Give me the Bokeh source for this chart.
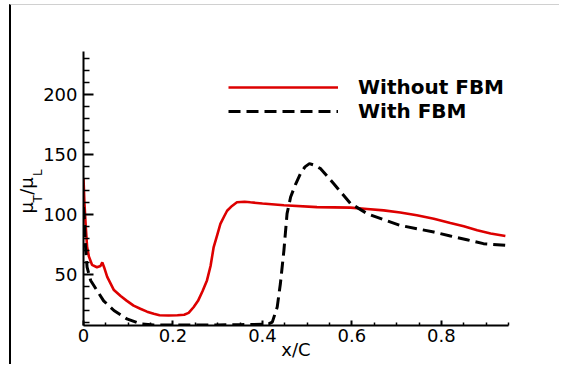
from bokeh.plotting import figure
from bokeh.models import FixedTicker, Legend, LegendItem, Range1d, Title
from bokeh.embed import file_html
from bokeh.resources import INLINE

# ---- data ----
x_without = [0, 0.002, 0.005, 0.008, 0.012, 0.019, 0.03, 0.038, 0.042, 0.046, 0.053,
             0.068, 0.083, 0.097, 0.112, 0.127, 0.142, 0.157, 0.17, 0.19, 0.21, 0.225,
             0.235, 0.246, 0.256, 0.266, 0.276, 0.284, 0.291, 0.299, 0.306, 0.314,
             0.321, 0.332, 0.343, 0.36, 0.373, 0.4, 0.448, 0.522, 0.597, 0.634, 0.671,
             0.708, 0.745, 0.783, 0.82, 0.85, 0.88, 0.91, 0.943]
y_without = [130, 110, 90, 73, 65, 58, 56, 57, 60, 56, 48,
             37, 32, 28, 24, 21.4, 19, 17.2, 16, 15.8, 16, 16.5,
             18, 22.7, 28, 36, 45, 57, 72.8, 83, 92, 98,
             103, 107, 110, 110.5, 110, 109, 107.5, 106, 105.6, 104.5, 103.3,
             101.5, 99.2, 96.4, 92.8, 90, 86.7, 84, 81.9]

x_with = [0, 0.002, 0.004, 0.008, 0.016, 0.03, 0.045, 0.068, 0.097, 0.127, 0.157, 0.2,
          0.25, 0.3, 0.35, 0.4, 0.415, 0.422, 0.433, 0.44, 0.448, 0.455, 0.463, 0.474,
          0.485, 0.495, 0.505, 0.515, 0.53, 0.559, 0.597, 0.634, 0.671, 0.708, 0.745,
          0.783, 0.82, 0.857, 0.894, 0.943]
y_with = [106, 95, 75.6, 56, 45, 36.7, 28, 20, 13, 8.9, 8, 8,
          8, 8, 8.2, 8.5, 9, 10.3, 22.8, 42, 70, 100.6, 114.4, 125,
          133.9, 139.5, 142.2, 141, 138, 125.6, 109, 100.6, 95.5, 90.8, 88,
          85.3, 82, 78.9, 75.6, 74.2]

x_ticks = [0, 0.2, 0.4, 0.6, 0.8]
x_tick_labels = ["0", "0.2", "0.4", "0.6", "0.8"]
x_minor = [0.05, 0.1, 0.15, 0.25, 0.3, 0.35, 0.45, 0.5, 0.55, 0.65, 0.7, 0.75, 0.85, 0.9, 0.95]
y_ticks = [50, 100, 150, 200]
y_minor = [10, 20, 30, 40, 60, 70, 80, 90, 110, 120, 130, 140, 160, 170, 180, 190, 210, 220, 230]
series_names = ["Without FBM", "With FBM"]
x_title = "x/C"
y_title_main = "μ\u2009\u2009/μ"
y_title_sub = "T" + "\u00a0" * 5 + "L"

FONT = "DejaVu Sans"

p = figure(width=550, height=360, output_backend="svg", toolbar_location=None,
           x_range=Range1d(0, 0.95), y_range=Range1d(7.5, 235.5),
           min_border_left=72, min_border_right=53, min_border_top=46, min_border_bottom=40)
p.styles = {"margin-left": "9px", "margin-top": "4px",
            "border-left": "2px solid black", "border-top": "1px solid #d0d0d0"}
p.outline_line_color = None
p.grid.visible = False
p.background_fill_color = "white"

r1 = p.line(x_without, y_without, line_color="#dd0000", line_width=2.6)
r2 = p.line(x_with, y_with, line_color="black", line_width=3, line_dash="12 6")

for ax in (p.xaxis[0], p.yaxis[0]):
    ax.axis_line_width = 2
    ax.axis_line_color = "black"
    ax.major_tick_line_width = 2
    ax.minor_tick_line_width = 1.5
    ax.major_tick_out = 0
    ax.minor_tick_out = 0
    ax.major_label_text_font = FONT
    ax.major_label_text_font_size = "18px"
    ax.major_label_text_color = "black"

p.xaxis.ticker = FixedTicker(ticks=x_ticks, minor_ticks=x_minor)
p.xaxis.major_label_overrides = dict(zip(x_ticks, x_tick_labels))
p.xaxis.major_tick_in = 5
p.xaxis.minor_tick_in = 3
p.xaxis.major_label_standoff = 3
p.xaxis.axis_label = x_title
p.xaxis.axis_label_text_font = FONT
p.xaxis.axis_label_text_font_size = "18px"
p.xaxis.axis_label_text_font_style = "normal"
p.xaxis.axis_label_text_color = "black"
p.xaxis.axis_label_standoff = -6

p.yaxis.ticker = FixedTicker(ticks=y_ticks, minor_ticks=y_minor)
p.yaxis.major_tick_in = 10
p.yaxis.minor_tick_in = 6
p.yaxis.major_label_standoff = 6

legend = Legend(items=[LegendItem(label=series_names[0], renderers=[r1]),
                       LegendItem(label=series_names[1], renderers=[r2])],
                location=(145, 202), glyph_width=110, glyph_height=20, label_height=20,
                spacing=0, padding=0, margin=0, label_standoff=20,
                border_line_alpha=0, background_fill_alpha=0,
                label_text_font=FONT, label_text_font_style="bold",
                label_text_font_size="20px", label_text_color="black")
p.add_layout(legend)

# y-axis title mu_T / mu_L built from two side titles (subscripts inner, main outer)
p.add_layout(Title(text=y_title_sub, align="left", offset=123, standoff=-8,
                   text_font=FONT, text_font_size="12px", text_font_style="normal",
                   text_color="black"), "left")
p.add_layout(Title(text=y_title_main, align="left", offset=112, standoff=-8,
                   text_font=FONT, text_font_size="18px", text_font_style="normal",
                   text_color="black"), "left")

open("out.html", "w").write(file_html(p, INLINE))
